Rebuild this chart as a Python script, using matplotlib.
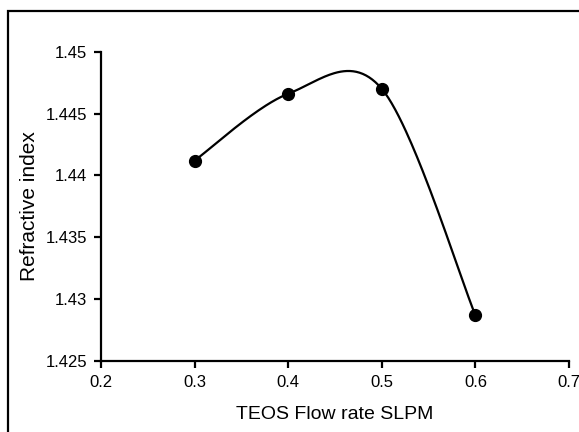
import numpy as np
import matplotlib
matplotlib.use("Agg")
import matplotlib.pyplot as plt
from matplotlib.patches import Rectangle

flow_rate = [0.3, 0.4, 0.5, 0.6]
refractive_index = [1.4412, 1.4466, 1.4470, 1.4287]
x_ticks = [0.2, 0.3, 0.4, 0.5, 0.6, 0.7]
y_ticks = [1.425, 1.43, 1.435, 1.44, 1.445, 1.45]

plt.rcParams['font.family'] = ['Liberation Sans', 'DejaVu Sans']

fig = plt.figure(figsize=(5.79, 4.32), dpi=100)
ax = fig.add_axes([0.1744, 0.1644, 0.9827 - 0.1744, 0.8803 - 0.1644])
ax.set_xlim(0.2, 0.7)
ax.set_ylim(1.425, 1.45)


def smooth(xs, ys, n=60):
    # Excel-style smoothing: Catmull-Rom Bezier computed in display space
    pts = ax.transData.transform(np.column_stack([xs, ys]))
    out = []
    m = len(pts)
    for i in range(m - 1):
        p0 = pts[i - 1] if i > 0 else pts[i]
        p1 = pts[i]
        p2 = pts[i + 1]
        p3 = pts[i + 2] if i + 2 < m else pts[i + 1]
        c1 = p1 + (p2 - p0) / 6.0
        c2 = p2 - (p3 - p1) / 6.0
        t = np.linspace(0, 1, n)[:, None]
        seg = ((1 - t) ** 3) * p1 + 3 * ((1 - t) ** 2) * t * c1 + 3 * (1 - t) * t ** 2 * c2 + t ** 3 * p2
        out.append(seg if i == 0 else seg[1:])
    out = np.vstack(out)
    d = ax.transData.inverted().transform(out)
    return d[:, 0], d[:, 1]


sx, sy = smooth(flow_rate, refractive_index)
ax.plot(sx, sy, color='black', lw=1.6, solid_capstyle='round')
ax.plot(flow_rate, refractive_index, 'o', color='black', ms=8.5)

ax.set_xticks(x_ticks)
ax.set_xticklabels([f"{v:g}" for v in x_ticks])
ax.set_yticks(y_ticks)
ax.set_yticklabels([f"{v:g}" for v in y_ticks])
for s in ['top', 'right']:
    ax.spines[s].set_visible(False)
for s in ['left', 'bottom']:
    ax.spines[s].set_linewidth(1.6)
ax.tick_params(direction='out', length=5, width=1.6, labelsize=12, pad=5)

ax.set_xlabel('TEOS Flow rate SLPM', fontsize=14)
ax.xaxis.set_label_coords(0.5, (361 - 415) / 309.3, transform=ax.transAxes)
ax.xaxis.label.set_va('center')
ax.set_ylabel('Refractive index', fontsize=15)
ax.yaxis.set_label_coords((30 - 101) / 468.0, 0.5, transform=ax.transAxes)
ax.yaxis.label.set_va('center')

fig.patches.append(Rectangle((8 / 579, -0.1), 1.2, (432 - 11) / 432 + 0.1, transform=fig.transFigure,
                             fill=False, edgecolor='black', lw=1.6))

fig.savefig('out.png', dpi=100)
